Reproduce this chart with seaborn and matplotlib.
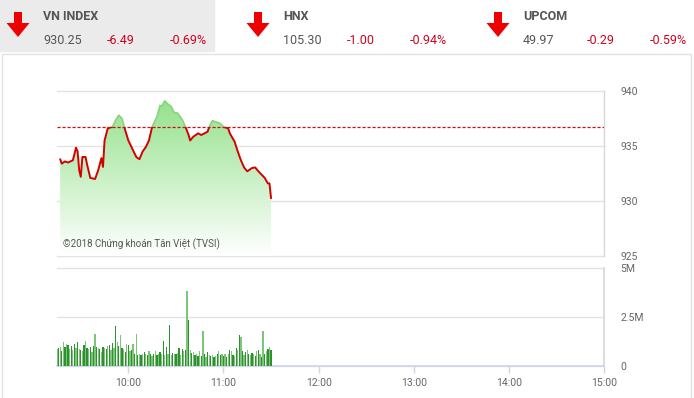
import numpy as np
import pandas as pd
import matplotlib
matplotlib.use('Agg')
import matplotlib.pyplot as plt
from matplotlib.colors import LinearSegmentedColormap
from matplotlib.patches import Rectangle, FancyArrow
import seaborn as sns

# Header data (index, close, change, pct)
index_names = ['VN INDEX', 'HNX', 'UPCOM']
index_close = ['930.25', '105.30', '49.97']
index_change = ['-6.49', '-1.00', '-0.29']
index_pct = ['-0.69%', '-0.94%', '-0.59%']

# Intraday VN-Index, minutes after 9:00
price_minutes = [17, 18, 20, 22, 25, 27, 28, 29, 30, 31, 33, 34, 36, 39, 41,
                 43, 44, 45, 47, 50, 52, 54, 56, 58, 60, 62, 65, 67, 69, 71,
                 73, 75, 78, 80, 81, 83, 85, 87, 89, 91, 92, 94, 96, 98, 99,
                 101, 104, 106, 108, 110, 111, 113, 115, 118, 120, 123, 124, 127, 129, 131,
                 133, 135, 138, 140, 142, 144, 146, 148, 149, 150]
price_values = [933.8, 933.4, 933.6, 933.5, 933.7, 934.85, 934.5, 932.8, 932.2, 934.0,
                934.0, 933.3, 932.1, 932.0, 932.8, 933.9, 933.1, 935.5, 936.6, 936.75,
                937.35, 937.8, 937.5, 936.45, 935.5, 934.9, 934.0, 933.8, 934.5, 934.9,
                935.5, 936.75, 937.65, 938.7, 938.6, 939.1, 938.8, 938.6, 938.0, 938.0,
                937.8, 937.4, 936.75, 936.0, 935.5, 935.85, 936.15, 936.0, 936.15, 936.3,
                936.75, 937.3, 937.2, 937.05, 936.75, 936.6, 936.15, 935.4, 934.5, 933.7,
                933.05, 932.7, 933.0, 933.05, 932.7, 932.4, 932.1, 931.6, 931.6, 930.25]
prev_close = 936.74

# Volume per minute (millions), 9:15 .. 11:30
vol_minutes = list(range(15, 151))
vol_values = [0.85, 0.9, 0.95, 0.75, 1.2, 0.95, 1.1, 1.05, 0.85, 1.0, 0.8, 1.1, 0.9, 1.2, 0.85,
              0.8, 0.75, 1.05, 1.3, 0.9, 0.85, 0.95, 0.7, 1.0, 1.63, 0.95, 0.9, 0.85, 0.7, 0.95,
              0.9, 0.85, 1.0, 1.05, 0.8, 1.15, 0.9, 2.06, 1.2, 1.0, 1.58, 0.9, 0.85, 0.7, 1.1,
              1.05, 0.75, 0.8, 1.1, 0.6, 1.63, 0.55, 0.6, 0.55, 0.6, 0.7, 0.6, 0.55, 0.75, 0.6,
              0.5, 0.6, 0.75, 0.55, 0.6, 0.7, 0.6, 1.28, 0.55, 0.95, 0.6, 2.09, 0.55, 0.65, 0.6,
              0.6, 0.65, 0.9, 0.55, 0.85, 0.75, 0.8, 3.84, 2.35, 0.8, 0.65, 0.7, 0.55, 0.6, 0.5,
              0.75, 0.5, 1.8, 0.6, 0.45, 0.7, 0.55, 0.5, 0.55, 0.45, 0.5, 0.6, 0.75, 0.55, 0.6,
              0.5, 0.6, 0.45, 0.6, 0.8, 0.75, 0.55, 0.5, 0.9, 0.8, 1.58, 1.5, 0.75, 0.55, 0.7,
              0.8, 0.6, 0.55, 0.65, 0.6, 0.5, 0.75, 0.8, 0.6, 0.45, 1.79, 0.6, 0.75, 0.85, 0.95, 0.8]

hour_ticks = [60, 120, 180, 240, 300, 360]
hour_labels = ['10:00', '11:00', '12:00', '13:00', '14:00', '15:00']

sns.set_theme(style='white')
plt.rcParams['font.family'] = ['Roboto', 'DejaVu Sans']
head_font = ['Liberation Sans Narrow', 'Roboto', 'DejaVu Sans']

W, H = 694, 398
fig = plt.figure(figsize=(6.94, 3.98), dpi=100)


def px_axes(left, top, right, bottom):
    return fig.add_axes([left / W, 1 - bottom / H, (right - left) / W, (bottom - top) / H])


# background / header layer in pixel coordinates
bg = fig.add_axes([0, 0, 1, 1])
bg.set_xlim(0, W)
bg.set_ylim(H, 0)
bg.axis('off')
bg.add_patch(Rectangle((0, 0), 214, 51, color='#ebebeb', zorder=0))
bg.add_patch(Rectangle((2, 54), 689, 350, facecolor='white', edgecolor='#e3e3e3', lw=1, zorder=0))

for i in range(3):
    x0 = 240 * i
    bg.add_patch(FancyArrow(x0 + 18, 12, 0, 25, width=8, head_width=23, head_length=14,
                            length_includes_head=True, color='#ee0000', lw=0))
    bg.text(x0 + 43, 17, index_names[i], fontsize=9, fontweight='bold', color='#555555',
            va='center', family=head_font)
    bg.text(x0 + 43, 41, index_close[i], fontsize=9, color='#555555', va='center', family=head_font)
    bg.text(x0 + 107, 41, index_change[i], fontsize=9, color='#d0021b', va='center', family=head_font)
    bg.text(x0 + 170, 41, index_pct[i], fontsize=9, color='#d0021b', va='center', family=head_font)

x_lo, x_hi = 15, 360

# price panel
ax = px_axes(57, 91, 604, 256)
ax.patch.set_alpha(0)
grad = np.linspace(0, 1, 256).reshape(-1, 1)
cmap = LinearSegmentedColormap.from_list('fade', ['#ffffff', '#8fe086'])
im = ax.imshow(grad, extent=[x_lo, x_hi, 925, 940], origin='lower', cmap=cmap,
               aspect='auto', zorder=1)
poly = ax.fill_between(price_minutes, price_values, 925, facecolor='none', edgecolor='none')
im.set_clip_path(poly.get_paths()[0], transform=ax.transData)

sns.lineplot(x=price_minutes, y=price_values, ax=ax, color='#d40000', lw=1.4, zorder=3)
red_line = ax.lines[-1]
red_line.set_clip_path(Rectangle((x_lo, 920), x_hi - x_lo, prev_close - 920, transform=ax.transData))
sns.lineplot(x=price_minutes, y=price_values, ax=ax, color='#86d47c', lw=1.2, zorder=3)
green_line = ax.lines[-1]
green_line.set_clip_path(Rectangle((x_lo, prev_close), x_hi - x_lo, 10, transform=ax.transData))

ax.axhline(prev_close, color='#c81010', ls=(0, (2.5, 1.5)), lw=0.9, zorder=4)
ax.set_xlim(x_lo, x_hi)
ax.set_ylim(925, 940)
ax.set_yticks([925, 930, 935, 940])
ax.set_xticks([])
ax.grid(axis='y', color='#e3e3e3', lw=1)
for gl in ax.get_ygridlines():
    gl.set_clip_on(False)
ax.yaxis.tick_right()
ax.tick_params(axis='y', length=0, pad=12, labelsize=7.5, labelcolor='#666666')
for s in ['top', 'left', 'bottom']:
    ax.spines[s].set_visible(False)
ax.spines['right'].set_color('#d8d8d8')
ax.spines['right'].set_linewidth(1)
ax.text(19, 925.8, '©2018 Chứng khoán Tân Việt (TVSI)', fontsize=7, color='#555555', zorder=5)
ax.set_xlabel('')
ax.set_ylabel('')

# volume panel
ax2 = px_axes(57, 268, 604, 366)
ax2.patch.set_alpha(0)
bar_colors = ['#7cc67a' if i % 2 == 0 else '#2e902e' for i in range(len(vol_values))]
ax2.bar(vol_minutes, vol_values, width=0.8, color=bar_colors, lw=0, zorder=3)
ax2.set_xlim(x_lo, x_hi)
ax2.set_ylim(0, 5)
ax2.set_yticks([0, 2.5, 5])
ax2.set_yticklabels(['0', '2.5M', '5M'])
ax2.grid(axis='y', color='#e3e3e3', lw=1)
for gl in ax2.get_ygridlines():
    gl.set_clip_on(False)
ax2.yaxis.tick_right()
ax2.tick_params(axis='y', length=0, pad=12, labelsize=7.5, labelcolor='#666666')
ax2.set_xticks(hour_ticks)
ax2.set_xticklabels(hour_labels)
ax2.tick_params(axis='x', bottom=True, length=5, width=1, color='#ccd6eb', pad=4,
                labelsize=7.5, labelcolor='#666666')
for s in ['top', 'left']:
    ax2.spines[s].set_visible(False)
ax2.spines['bottom'].set_color('#ccd6eb')
ax2.spines['right'].set_color('#d8d8d8')

fig.savefig('out.png', dpi=100)
